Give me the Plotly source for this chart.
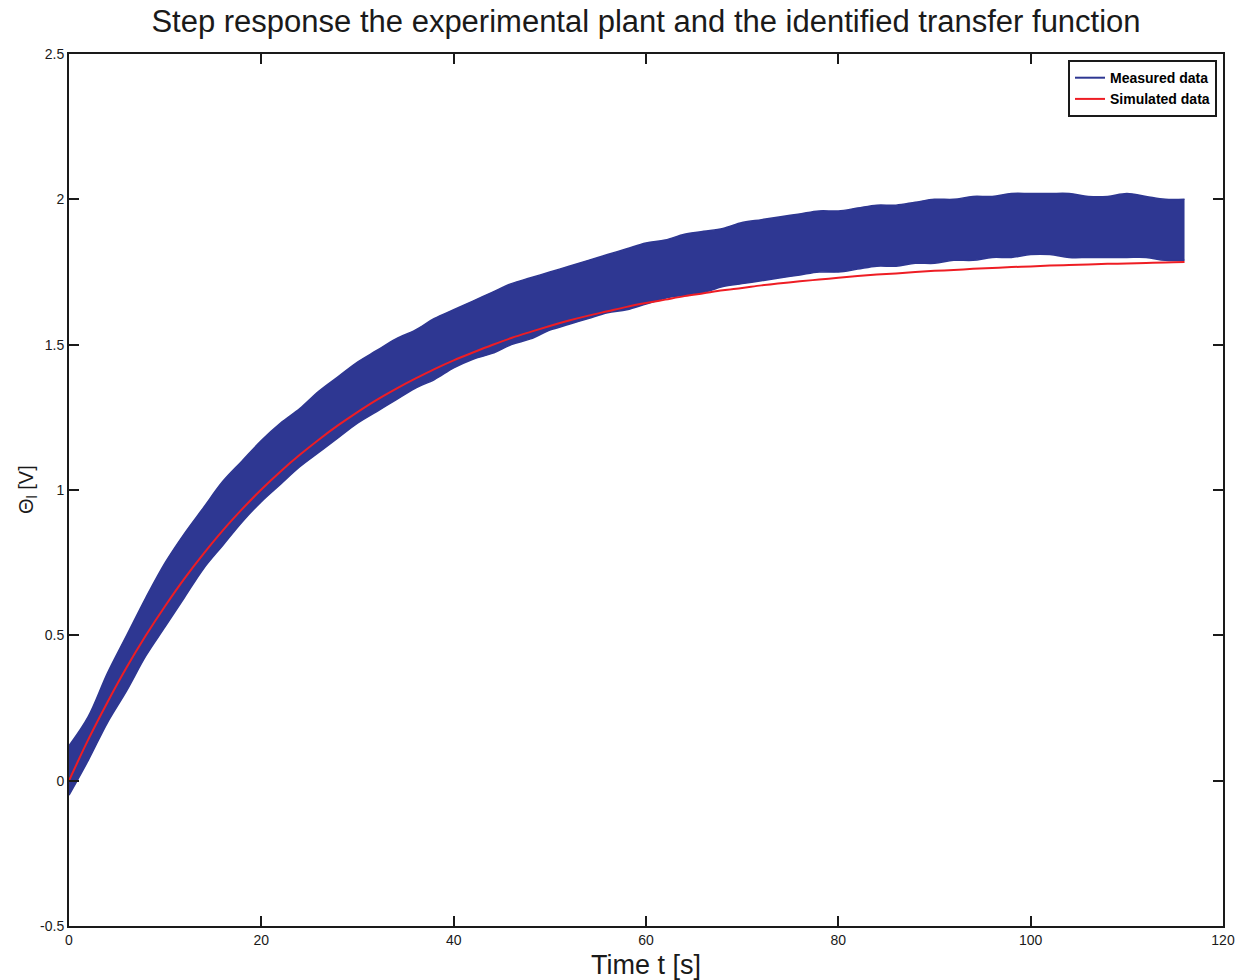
import plotly.graph_objects as go

# ---- data ----
t_meas = [0, 2, 4, 6, 8, 10, 12, 14, 16, 18, 20, 22, 24, 26, 28, 30, 32, 34, 36, 38,
          40, 42, 44, 46, 48, 50, 52, 54, 56, 58, 60, 62, 64, 66, 68, 70, 72, 74, 76, 78,
          80, 82, 84, 86, 88, 90, 92, 94, 96, 98, 100, 102, 104, 106, 108, 110, 112, 114, 116]

measured_upper = [0.12, 0.22, 0.37, 0.50, 0.63, 0.75, 0.85, 0.94, 1.03, 1.10, 1.17, 1.23, 1.28, 1.34,
                  1.39, 1.44, 1.48, 1.52, 1.55, 1.59, 1.62, 1.65, 1.68, 1.71, 1.73, 1.75, 1.77, 1.79,
                  1.81, 1.83, 1.85, 1.86, 1.88, 1.89, 1.90, 1.92, 1.93, 1.94, 1.95, 1.96, 1.96, 1.97,
                  1.98, 1.98, 1.99, 2.00, 2.00, 2.01, 2.01, 2.02, 2.02, 2.02, 2.02, 2.01, 2.01, 2.02,
                  2.01, 2.00, 2.00]

measured_lower = [-0.05, 0.07, 0.20, 0.31, 0.43, 0.53, 0.63, 0.73, 0.81, 0.89, 0.96, 1.02, 1.08, 1.13,
                  1.18, 1.23, 1.27, 1.31, 1.35, 1.38, 1.42, 1.45, 1.47, 1.50, 1.52, 1.55, 1.57, 1.59,
                  1.61, 1.62, 1.64, 1.66, 1.67, 1.68, 1.70, 1.71, 1.72, 1.73, 1.74, 1.75, 1.75, 1.76,
                  1.77, 1.77, 1.78, 1.78, 1.79, 1.79, 1.80, 1.80, 1.81, 1.81, 1.80, 1.80, 1.80, 1.80,
                  1.80, 1.79, 1.79]

t_sim = t_meas
simulated = [0.000, 0.141, 0.270, 0.390, 0.500, 0.601, 0.695, 0.781, 0.861, 0.934, 1.002, 1.064,
             1.121, 1.174, 1.223, 1.268, 1.310, 1.348, 1.383, 1.416, 1.446, 1.473, 1.499, 1.523,
             1.544, 1.564, 1.583, 1.600, 1.615, 1.630, 1.643, 1.655, 1.667, 1.677, 1.687, 1.695,
             1.704, 1.711, 1.718, 1.724, 1.730, 1.736, 1.741, 1.745, 1.750, 1.754, 1.757, 1.761,
             1.764, 1.767, 1.769, 1.772, 1.774, 1.776, 1.778, 1.779, 1.781, 1.783, 1.784]

x_ticks = [0, 20, 40, 60, 80, 100, 120]
x_ticktext = ["0", "20", "40", "60", "80", "100", "120"]
y_ticks = [-0.5, 0, 0.5, 1, 1.5, 2, 2.5]
y_ticktext = ["-0.5", "0", "0.5", "1", "1.5", "2", "2.5"]

BLUE = "#2E3792"
RED = "#EE1D24"
FONT = "Liberation Sans, Arial, Helvetica, sans-serif"

fig = go.Figure()
fig.add_trace(go.Scatter(x=t_meas, y=measured_upper, mode="lines",
                         line=dict(color=BLUE, width=1.5, shape="spline"),
                         showlegend=False, hoverinfo="skip"))
fig.add_trace(go.Scatter(x=t_meas, y=measured_lower, mode="lines", fill="tonexty",
                         fillcolor=BLUE, line=dict(color=BLUE, width=1.5, shape="spline"),
                         showlegend=False, hoverinfo="skip"))
fig.add_trace(go.Scatter(x=[None], y=[None], mode="lines", name="Measured data",
                         line=dict(color=BLUE, width=2)))
fig.add_trace(go.Scatter(x=t_sim, y=simulated, mode="lines", name="Simulated data",
                         line=dict(color=RED, width=2, shape="spline")))

axis_common = dict(showgrid=False, zeroline=False, showline=True, linecolor="#1a1a1a",
                   linewidth=2, mirror="allticks", ticks="inside", ticklen=10,
                   tickwidth=1.5, tickcolor="#1a1a1a", automargin=False,
                   tickfont=dict(family=FONT, size=14, color="#1a1a1a"))

fig.update_layout(
    width=1247, height=980,
    paper_bgcolor="white", plot_bgcolor="white",
    margin=dict(l=69, r=24, t=54, b=54),
    font=dict(family=FONT, color="#1a1a1a"),
    title=dict(text="Step response the experimental plant and the identified transfer function",
               x=(69 + 1223) / 2 / 1247, xanchor="center", y=1 - 21 / 980, yanchor="middle",
               font=dict(family=FONT, size=31, color="#1a1a1a")),
    xaxis=dict(range=[0, 120], tickvals=x_ticks, ticktext=x_ticktext,
               title=dict(text="Time t [s]",
                          font=dict(family=FONT, size=27, color="#1a1a1a")),
               **axis_common),
    yaxis=dict(range=[-0.5, 2.5], tickvals=y_ticks, ticktext=y_ticktext, **axis_common),
    legend=dict(x=0.9948, y=0.993, xanchor="right", yanchor="top",
                bgcolor="white", bordercolor="#1a1a1a", borderwidth=2,
                traceorder="normal",
                font=dict(family=FONT, size=14, color="black", weight="bold"),
                tracegroupgap=0, itemwidth=30),
    showlegend=True,
    annotations=[dict(text="Θ<sub>l</sub> [V]", xref="paper", yref="paper",
                      x=(27 - 69) / 1154, y=0.5, xanchor="center", yanchor="middle",
                      textangle=-90, showarrow=False,
                      font=dict(family=FONT, size=20, color="#1a1a1a"))],
)

fig.write_html("out.html")
